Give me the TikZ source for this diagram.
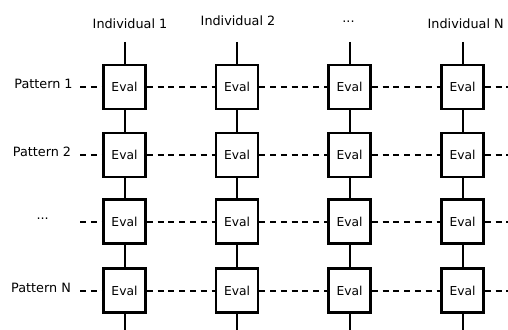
\documentclass[tikz,border=0pt]{standalone}
\usepackage{fontspec}
\setmainfont{DejaVu Sans}
\begin{document}
\begin{tikzpicture}[x=1pt,y=-1pt,
  evalbox/.style={draw, line width=2.4pt, fill=white, minimum width=42pt, minimum height=44pt, inner sep=0pt, font=\fontsize{12.3}{14}\selectfont},
  lbl/.style={font=\fontsize{12.8}{15}\selectfont, inner sep=0pt},
  vline/.style={line width=2pt},
  hline/.style={line width=2pt, dash pattern=on 6pt off 4.8pt}]
\useasboundingbox (0,0) rectangle (508,329);
% column labels
\node[lbl] (i1) at (130,24) {Individual 1};
\node[lbl] (i2) at (238,21) {Individual 2};
\node[lbl] (i3) at (348.5,22) {...};
\node[lbl] (i4) at (465.7,24) {Individual N};
% row labels
\node[lbl] (p1) at (43.5,84) {Pattern 1};
\node[lbl] (p2) at (42,152) {Pattern 2};
\node[lbl] (p3) at (42.7,218.5) {...};
\node[lbl] (p4) at (41,288) {Pattern N};
% boxes
\foreach \c/\x in {1/124.5,2/237,3/349.5,4/462.5}{
  \foreach \r/\y in {1/87,2/155,3/221.5,4/290.5}{
    \node[evalbox] (b\r\c) at (\x,\y) {Eval};
  }
}
% coordinates for free ends
\foreach \c/\x in {1/124.5,2/237,3/349.5,4/462.5}{
  \coordinate (t\c) at (\x,42);
  \coordinate (d\c) at (\x,331);
}
\foreach \r/\y in {1/87,2/155,3/221.5,4/290.5}{
  \coordinate (ls\r) at (80,\y);
  \coordinate (re\r) at (510,\y);
}
% vertical connectors
\foreach \c in {1,2,3,4}{
  \draw[vline] (t\c) -- (b1\c) -- (b2\c) -- (b3\c) -- (b4\c) -- (d\c);
}
% dashed horizontal connectors
\foreach \r in {1,2,3,4}{
  \draw[hline] (ls\r) -- (b\r1) -- (b\r2) -- (b\r3) -- (b\r4) -- (re\r);
}
\end{tikzpicture}
\end{document}
